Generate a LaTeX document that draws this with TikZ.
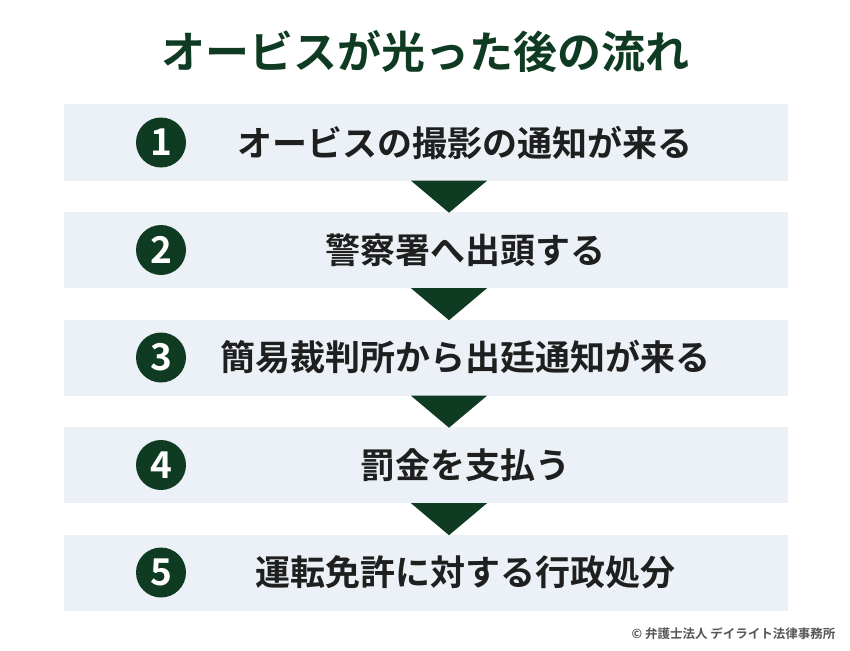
\documentclass[tikz,border=0pt]{standalone}
\usepackage{fontspec}
\setmainfont{Noto Sans CJK JP}[BoldFont={* Bold}]
\usetikzlibrary{positioning, calc}
\definecolor{darkgreen}{HTML}{0E3B22}
\definecolor{barblue}{HTML}{EBF1F6}
\definecolor{notegray}{HTML}{555555}
\tikzset{%
	step bar/.style={
		fill=barblue,
		minimum width=724pt,
		minimum height=76pt,
		inner sep=0pt
	},
	step num/.style={
		circle,
		fill=darkgreen,
		text=white,
		minimum size=50pt,
		inner sep=0pt,
		font=\fontsize{37}{37}\selectfont\bfseries
	},
	step text/.style={
		font=\fontsize{35}{35}\selectfont\bfseries,
		text=black!88
	},
	down arrow/.style={
		fill=darkgreen
	}
}

\begin{document}
\begin{tikzpicture}[x=1pt,y=-1pt]
	\useasboundingbox (0,0) rectangle (850,650);
	\fill[white] (0,0) rectangle (850,650);
	
	\node[text=darkgreen, font=\fontsize{44}{44}\selectfont\bfseries] (title) at (425,52) {オービスが光った後の流れ};
	
	\node[step bar] (bar1) at (426,142.5) {};
	\node[step num] (num1) at (161,142.5) {1};
	\node[step text] (txt1) at (465,142.5) {オービスの撮影の通知が来る};
	
	\node[step bar] (bar2) at (426,250) {};
	\node[step num] (num2) at (161,250) {2};
	\node[step text] (txt2) at (465,250) {警察署へ出頭する};
	
	\node[step bar] (bar3) at (426,357.5) {};
	\node[step num] (num3) at (161,357.5) {3};
	\node[step text] (txt3) at (465,357.5) {簡易裁判所から出廷通知が来る};
	
	\node[step bar] (bar4) at (426,465) {};
	\node[step num] (num4) at (161,465) {4};
	\node[step text] (txt4) at (465,465) {罰金を支払う};
	
	\node[step bar] (bar5) at (426,572.5) {};
	\node[step num] (num5) at (161,572.5) {5};
	\node[step text] (txt5) at (465,572.5) {運転免許に対する行政処分};
	
	% arrows between the steps
	\fill[down arrow] ($(bar1.south)+(-15,0)$) -- ($(bar1.south)+(61,0)$) -- ($(bar1.south)+(23,32)$) -- cycle;
	\fill[down arrow] ($(bar2.south)+(-15,0)$) -- ($(bar2.south)+(61,0)$) -- ($(bar2.south)+(23,32)$) -- cycle;
	\fill[down arrow] ($(bar3.south)+(-15,0)$) -- ($(bar3.south)+(61,0)$) -- ($(bar3.south)+(23,32)$) -- cycle;
	\fill[down arrow] ($(bar4.south)+(-15,0)$) -- ($(bar4.south)+(61,0)$) -- ($(bar4.south)+(23,32)$) -- cycle;
	
	\node[anchor=east, text=notegray, font=\fontsize{12.5}{12.5}\selectfont\bfseries] (credit) at (839,634) {© 弁護士法人 デイライト法律事務所};
\end{tikzpicture}
\end{document}
